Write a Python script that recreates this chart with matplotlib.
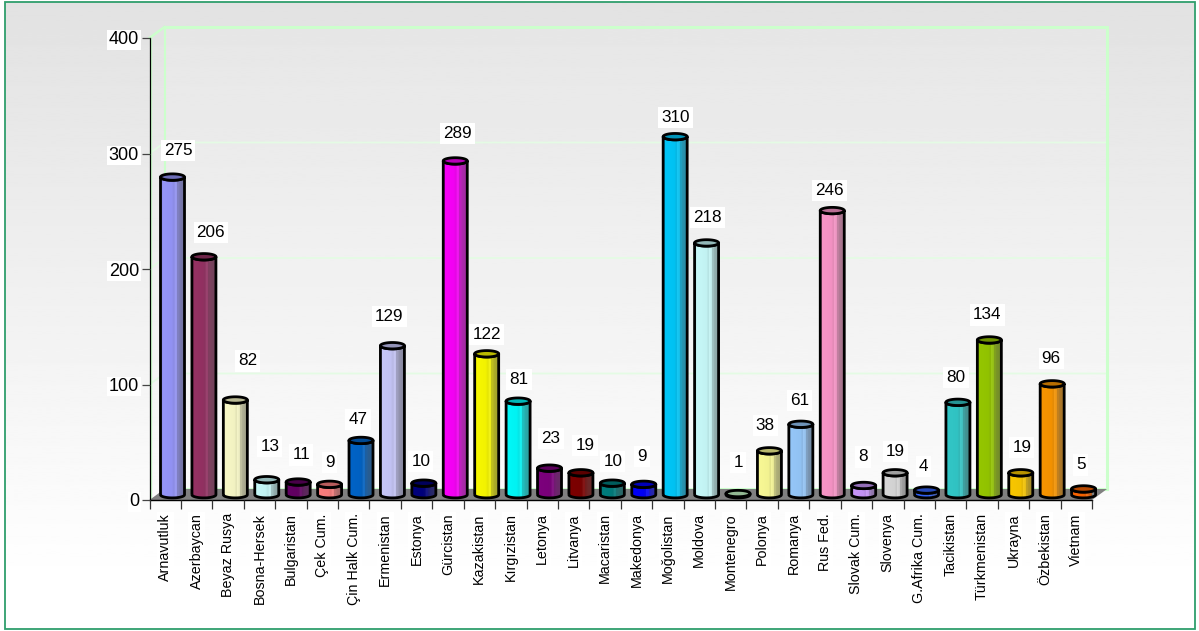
import numpy as np
import matplotlib
matplotlib.use("Agg")
import matplotlib.pyplot as plt
from matplotlib.patches import Polygon, Rectangle, PathPatch
from matplotlib.path import Path
from matplotlib.colors import to_rgb

categories = ["Arnavutluk", "Azerbaycan", "Beyaz Rusya", "Bosna-Hersek", "Bulgaristan", "Çek Cum.",
              "Çin Halk Cum.", "Ermenistan", "Estonya", "Gürcistan", "Kazakistan", "Kırgızistan",
              "Letonya", "Litvanya", "Macaristan", "Makedonya", "Moğolistan", "Moldova", "Montenegro",
              "Polonya", "Romanya", "Rus Fed.", "Slovak Cum.", "Slovenya", "G.Afrika Cum.", "Tacikistan",
              "Türkmenistan", "Ukrayna", "Özbekistan", "Vietnam"]
values = [275, 206, 82, 13, 11, 9, 47, 129, 10, 289, 122, 81, 23, 19, 10, 9, 310, 218, 1, 38, 61, 246,
          8, 19, 4, 80, 134, 19, 96, 5]
y_ticks = [0, 100, 200, 300, 400]

colors = ["#9999ff", "#993366", "#ffffcc", "#ccffff", "#660066", "#ff8080", "#0066cc", "#ccccff",
          "#000080", "#ff00ff", "#ffff00", "#00ffff", "#800080", "#800000", "#008080", "#0000ff",
          "#00ccff", "#ccffff", "#ccffcc", "#ffff99", "#99ccff", "#ff99cc", "#cc99ff", "#dddddd",
          "#3366ff", "#33cccc", "#99cc00", "#ffcc00", "#ff9900", "#ff6600"]
# label placement relative to the bar tip, in pixels (dx, up)
label_dx = [5.5, 7, 12, 3, 3, 0, -3, -3, -3, 2, 0, 1, 1.5, 4, 0.5, -2, 0, 1, 0, -4, -1, -3, -1, 0, -3, -2, -2, 1, -1, -3]
label_up = [27, 24, 39, 33, 27, 22, 21, 29, 22, 27, 19, 22, 30, 27, 22, 28, 19, 25, 31, 25, 24, 20, 28.5, 21, 24, 25, 25, 25, 25, 24]

plt.rcParams["font.family"] = ["Liberation Sans", "DejaVu Sans"]
W, H = 1199, 631
fig = plt.figure(figsize=(W / 100, H / 100), dpi=100, facecolor="white")

# background
bg = fig.add_axes([0, 0, 1, 1], zorder=0)
bg.set_axis_off()
bg.set_xlim(0, W)
bg.set_ylim(H, 0)
grad = np.linspace(0, 1, 256).reshape(-1, 1)
bg.imshow(0.886 + 0.114 * np.clip(grad / 0.93, 0, 1), cmap="gray", vmin=0, vmax=1,
          extent=[5, 1194, 628, 2], aspect="auto")
bg.add_patch(Rectangle((4.5, 1.5), 1190, 627, fill=False, ec="#2f9e6c", lw=1.3))

# main axes
L, R, T, B = 149.5, 1092.0, 38.0, 500.0
ax = fig.add_axes([L / W, 1 - B / H, (R - L) / W, (B - T) / H], zorder=1)
ax.patch.set_alpha(0)
px = 30 / (R - L)
py = 400 / (B - T)
DX, DY = 15 * px, 11 * py   # depth of the 3D box

# back wall
ax.add_patch(Rectangle((DX, DY), 30, 400, fc="white", alpha=0.13, ec="none", zorder=0.5, clip_on=False))
wall = "#ccffcc"
for v in y_ticks[1:-1]:
    ax.plot([0, DX, 30 + DX], [v, v + DY, v + DY], color="#e4fbe4", lw=1.3, zorder=1, clip_on=False)
ax.plot([0, DX], [400, 400 + DY], color=wall, lw=1.8, zorder=1, clip_on=False)
ax.plot([DX, DX], [DY, 400 + DY], color=wall, lw=1.5, zorder=1, clip_on=False)
ax.plot([DX, 30 + DX, 30 + DX], [400 + DY, 400 + DY, DY], color=wall, lw=2.2, zorder=1, clip_on=False,
        solid_joinstyle="miter")
ax.plot([DX, 30 + DX], [DY, DY], color=wall, lw=2.2, zorder=1, clip_on=False)
ax.plot([1.5 * px, 1.5 * px], [0, 400], color=wall, lw=1.0, zorder=1, clip_on=False)

# floor
ax.add_patch(Polygon([[0, 0], [DX, DY], [30 + DX, DY], [30, 0]], closed=True, fc="#808080", ec="none",
                     zorder=1.5, clip_on=False))

# cylinders
shade_pos = [0.0, 0.10, 0.45, 0.56, 0.58, 0.66, 0.68, 0.76, 0.78, 1.0]
shade_val = [0.90, 0.97, 0.95, 0.90, 1.02, 0.98, 0.80, 0.78, 0.72, 0.62]
gray_val = [0.0, 0.0, 0.0, 0.05, 0.15, 0.15, 0.18, 0.22, 0.25, 0.30]
u = np.linspace(0, 1, 128)
prof = np.interp(u, shade_pos, shade_val)
gmix = np.interp(u, shade_pos, gray_val)
half_w = 12 * px
ell_h = 3.2 * py
off_x = 7.3 * px
off_y = 5.3 * py
th = np.linspace(0, np.pi, 40)
for i, (v, c) in enumerate(zip(values, colors)):
    cx = i + 0.5 + off_x
    y0 = off_y
    y1 = v + off_y
    rgb = np.array(to_rgb(c))
    bot_x = cx - half_w * np.cos(th)
    bot_y = y0 - ell_h * np.sin(th)
    verts = np.vstack([np.column_stack([bot_x, bot_y]),
                       [[cx + half_w, y1]],
                       np.column_stack([cx + half_w * np.cos(th), y1 - ell_h * np.sin(th)]),
                       [[cx - half_w, y0]]])
    body = Path(verts, closed=False)
    col = prof[:, None] * rgb[None, :] * (1 - gmix[:, None]) + gmix[:, None] * 0.6
    img = np.clip(col[None, :, :], 0, 1)
    zb = 2 + i * 0.01
    im = ax.imshow(img, extent=[cx - half_w, cx + half_w, y0 - ell_h, y1 + ell_h], aspect="auto",
                   zorder=zb, interpolation="nearest")
    patch = PathPatch(body, transform=ax.transData, fc="none", ec="black", lw=2.0, zorder=zb + 0.001,
                      clip_on=False, joinstyle="round")
    ax.add_patch(patch)
    im.set_clip_path(patch)
    t2 = np.linspace(0, 2 * np.pi, 60)
    top = np.column_stack([cx + half_w * np.cos(t2), y1 + ell_h * np.sin(t2)])
    ax.add_patch(Polygon(top, closed=True, fc=rgb * 0.72, ec="black", lw=2.0, zorder=zb + 0.002, clip_on=False))
    ax.text(cx + label_dx[i] * px, y1 + label_up[i] * py, str(v), ha="center", va="center", fontsize=12.3,
            color="#000000", zorder=5, clip_on=False,
            bbox=dict(fc="white", ec="none", pad=2.2))

ax.set_xlim(0, 30)
ax.set_ylim(0, 400)
for s in ("top", "right"):
    ax.spines[s].set_visible(False)
ax.spines["left"].set_linewidth(0.9)
ax.spines["bottom"].set_linewidth(1.0)
ax.set_axisbelow(False)
ax.set_yticks(y_ticks)
ax.set_yticklabels([str(t) for t in y_ticks], fontsize=13, color="#000000")
ax.tick_params(axis="y", length=6, width=0.9, color="#444444", pad=1.5)
ax.set_xticks(np.arange(31))
ax.set_xticklabels([])
ax.tick_params(axis="x", which="major", length=6.5, width=0.9, color="#333333")
ax.set_xticks(np.arange(30) + 0.5, minor=True)
ax.set_xticklabels(categories, minor=True, rotation=90, fontsize=10.3, color="#000000")
ax.tick_params(axis="x", which="minor", length=0, pad=9.5)
for t in ax.get_xticklabels(minor=True) + ax.get_yticklabels():
    t.set_bbox(dict(fc="white", ec="none", pad=1.0))

fig.savefig("out.png", dpi=100)
